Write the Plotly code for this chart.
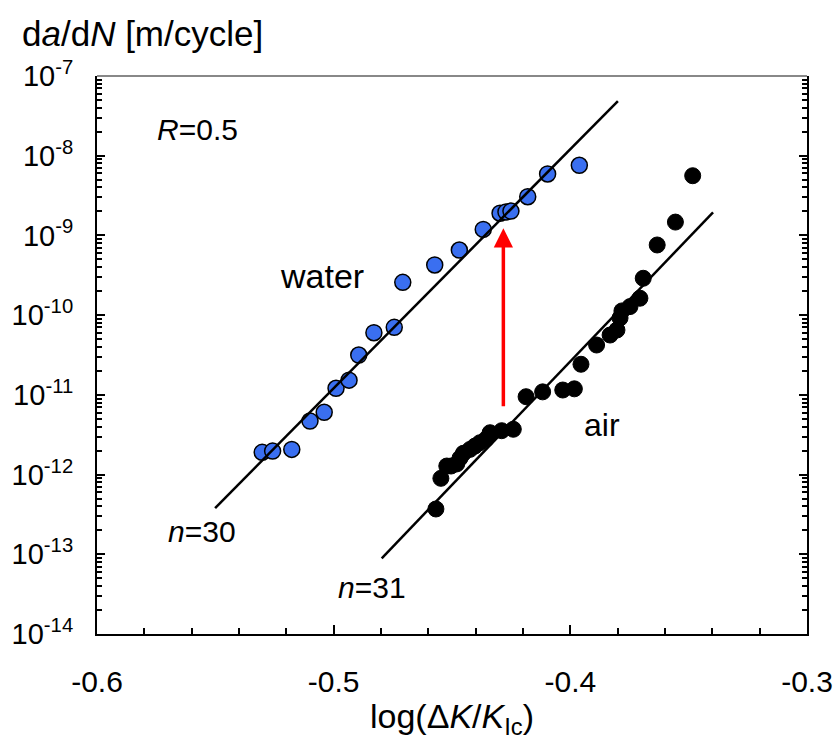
import math
import plotly.graph_objects as go

# ---- data ----
water_x = [-0.5302, -0.5258, -0.5177, -0.5100, -0.5040, -0.4990, -0.4935, -0.4894,
           -0.4830, -0.4744, -0.4708, -0.4573, -0.4469, -0.4368, -0.4297, -0.4272,
           -0.4251, -0.4180, -0.4096, -0.3962]
water_y = [1.90e-12, 1.97e-12, 2.07e-12, 4.70e-12, 6.04e-12, 1.21e-11, 1.53e-11, 3.16e-11,
           6.02e-11, 7.03e-11, 2.58e-10, 4.26e-10, 6.56e-10, 1.19e-9, 1.90e-9, 1.97e-9,
           2.02e-9, 3.06e-9, 5.90e-9, 7.59e-9]

air_x = [-0.4568, -0.4547, -0.4522, -0.4504, -0.4480, -0.4466, -0.4452, -0.4424,
         -0.4403, -0.4382, -0.4356, -0.4339, -0.4290, -0.4241, -0.4187, -0.4117,
         -0.4032, -0.3983, -0.3955, -0.3889, -0.3832, -0.3803, -0.3790, -0.3782,
         -0.3748, -0.3706, -0.3692, -0.3633, -0.3556, -0.3483]
air_y = [3.70e-13, 8.97e-13, 1.28e-12, 1.28e-12, 1.36e-12, 1.61e-12, 1.85e-12, 2.07e-12,
         2.28e-12, 2.51e-12, 2.79e-12, 3.35e-12, 3.55e-12, 3.70e-12, 9.48e-12, 1.09e-11,
         1.15e-11, 1.19e-11, 2.42e-11, 4.22e-11, 5.63e-11, 6.51e-11, 9.20e-11, 1.13e-10,
         1.28e-10, 1.63e-10, 2.90e-10, 7.59e-10, 1.47e-9, 5.61e-9]

fit_water_x = [-0.5501, -0.3799]
fit_water_y = [3.8e-13, 4.85e-8]
fit_air_x = [-0.4797, -0.3397]
fit_air_y = [8.9e-14, 1.95e-9]

arrow_x = -0.4283
arrow_from = 6.9e-12
arrow_to = 1.23e-9

x_ticks = [-0.6, -0.5, -0.4, -0.3]
x_ticklabels = ["-0.6", "-0.5", "-0.4", "-0.3"]
y_ticks = [1e-14, 1e-13, 1e-12, 1e-11, 1e-10, 1e-9, 1e-8, 1e-7]
y_ticklabels = ["10<sup>-14</sup>", "10<sup>-13</sup>", "10<sup>-12</sup>", "10<sup>-11</sup>",
                "10<sup>-10</sup>", "10<sup>-9</sup>", "10<sup>-8</sup>", "10<sup>-7</sup>"]
y_minor = [k * 10.0 ** e for e in range(-14, -7) for k in range(2, 10)]

FONT = "Liberation Sans, Arial, sans-serif"

W, H = 837, 747
L, R, T, B = 97, 30, 76, 113
pw, ph = W - L - R, H - T - B


def px(xp):
    return (xp - L) / pw


def py(yp):
    return (H - B - yp) / ph


fig = go.Figure()
fig.add_trace(go.Scatter(x=water_x, y=water_y, mode="markers",
                         marker=dict(size=16, color="#3A6FF0", line=dict(color="black", width=1.5)),
                         showlegend=False))
fig.add_trace(go.Scatter(x=air_x, y=air_y, mode="markers",
                         marker=dict(size=16, color="black", line=dict(color="black", width=1)),
                         showlegend=False))
fig.add_trace(go.Scatter(x=fit_water_x, y=fit_water_y, mode="lines",
                         line=dict(color="black", width=2.5), showlegend=False))
fig.add_trace(go.Scatter(x=fit_air_x, y=fit_air_y, mode="lines",
                         line=dict(color="black", width=2.5), showlegend=False))

ann = [
    dict(x=-0.5577, y=-7.677, text="<i>R</i>=0.5", size=30),
    dict(x=-0.5049, y=-9.509, text="water", size=34),
    dict(x=-0.3866, y=-11.378, text="air", size=32),
    dict(x=-0.5556, y=-12.708, text="<i>n</i>=30", size=30),
    dict(x=-0.4838, y=-13.411, text="<i>n</i>=31", size=30),
]
annotations = []
for a in ann:
    annotations.append(dict(x=a["x"], y=a["y"], xref="x", yref="y", text=a["text"],
                            showarrow=False, font=dict(family=FONT, size=a["size"], color="black"),
                            xanchor="center", yanchor="middle"))
annotations.append(dict(x=arrow_x, y=math.log10(arrow_to), ax=arrow_x, ay=math.log10(arrow_from),
                        xref="x", yref="y", axref="x", ayref="y", text="", showarrow=True,
                        arrowhead=2, arrowsize=1.1, arrowwidth=3.5, arrowcolor="#FF0000", standoff=0))
annotations.append(dict(x=px(20), y=py(33), xref="paper", yref="paper",
                        text="d<i>a</i>/d<i>N</i> [m/cycle]",
                        showarrow=False, font=dict(family=FONT, size=35, color="black"),
                        xanchor="left", yanchor="middle"))
annotations.append(dict(x=px(452), y=py(718), xref="paper", yref="paper",
                        text="log(Δ<i>K</i>/<i>K</i><sub>Ic</sub>)",
                        showarrow=False, font=dict(family=FONT, size=34, color="black"),
                        xanchor="center", yanchor="middle"))

fig.update_layout(
    width=W, height=H,
    margin=dict(l=L, r=R, t=T, b=B, autoexpand=False),
    paper_bgcolor="white", plot_bgcolor="white",
    annotations=annotations,
    shapes=[dict(type="line", xref="paper", yref="paper", x0=0, x1=1, y0=1, y1=1,
                 line=dict(color="#888888", width=2))],
    xaxis=dict(range=[-0.6, -0.3], tickvals=x_ticks, ticktext=x_ticklabels, automargin=False,
               ticks="inside", ticklen=9, tickwidth=1.5, tickcolor="black",
               showline=True, linecolor="black", linewidth=2, mirror=False,
               showgrid=False, zeroline=False,
               minor=dict(dtick=0.02, tick0=-0.6, ticks="inside", ticklen=6, tickwidth=1.5,
                          tickcolor="black", showgrid=False),
               tickfont=dict(family=FONT, size=30, color="black"), ticklabelstandoff=20),
    yaxis=dict(type="log", range=[-14, -7], tickvals=y_ticks, ticktext=y_ticklabels, automargin=False,
               ticks="inside", ticklen=8, tickwidth=1.5, tickcolor="black",
               showline=True, linecolor="black", linewidth=2, mirror="ticks",
               showgrid=False, zeroline=False,
               minor=dict(tickvals=y_minor, ticks="inside", ticklen=5, tickwidth=1.5,
                          tickcolor="black", showgrid=False),
               tickfont=dict(family=FONT, size=29, color="black"), ticklabelstandoff=16),
)

fig.write_html("out.html", config={"displayModeBar": False},
               post_script="document.body.style.margin='0';")
